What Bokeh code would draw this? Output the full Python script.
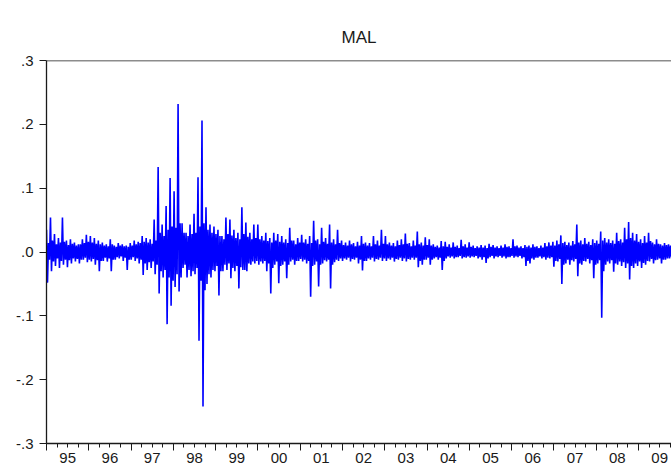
import numpy as np
from bokeh.plotting import figure
from bokeh.models import (LinearAxis, FixedTicker, CustomJSTickFormatter, Span,
                          Range1d, ColumnDataSource)
from bokeh.embed import file_html
from bokeh.resources import INLINE

TITLE = "MAL"
START, END = 1995.0, 2009.78
YEARS = list(range(1995, 2010))
Y_TICKS = [-0.3, -0.2, -0.1, 0.0, 0.1, 0.2, 0.3]

# daily returns (in thousandths):
# HI / LO = extreme highs / lows, HI_B / LO_B = the dense core band between them
HI = [35, 54, 28, 22, 54, 18, 20, 15, 12, 20, 27,
      25, 22, 18, 15, 12, 20, 10, 14, 12, 10, 14,
      18, 16, 25, 22, 20, 51, 133, 43, 72, 116,
      95, 232, 45, 30, 43, 60, 117, 206, 70, 43, 40,
      35, 25, 54, 51, 35, 30, 70, 46, 30, 43,
      43, 25, 30, 22, 30, 28, 25, 20, 38, 18, 22,
      27, 20, 25, 49, 20, 38, 22, 43, 20, 35,
      18, 15, 18, 14, 16, 25, 15, 14, 25, 18, 35,
      25, 15, 14, 18, 20, 29, 14, 18, 32, 15,
      23, 20, 12, 10, 17, 16, 12, 15, 10, 19, 12,
      15, 10, 9, 11, 10, 13, 11, 9, 10, 12, 9,
      20, 10, 9, 11, 10, 12, 9, 10, 14, 15,
      16, 18, 26, 16, 15, 17, 43, 18, 22, 16, 20,
      18, 32, 22, 20, 18, 30, 20, 38, 47, 30,
      28, 20, 25, 30, 15, 20, 12, 14, 12]
LO = [-48, -30, -22, -25, -20, -24, -18, -15, -18, -12, -16,
      -15, -20, -30, -14, -15, -30, -12, -10, -14, -28, -12,
      -14, -18, -36, -28, -25, -35, -65, -40, -113, -84,
      -55, -62, -25, -40, -38, -35, -139, -242, -50, -40, -30,
      -68, -30, -28, -41, -30, -57, -28, -30, -20, -18,
      -20, -18, -30, -65, -20, -49, -20, -41, -15, -20, -14,
      -15, -18, -70, -20, -54, -18, -15, -57, -16, -14,
      -14, -12, -15, -12, -18, -29, -14, -12, -15, -12, -14,
      -14, -12, -15, -12, -14, -15, -12, -12, -24, -20,
      -12, -20, -10, -12, -28, -10, -9, -10, -8, -10, -9,
      -9, -8, -10, -12, -17, -8, -10, -8, -9, -10, -8,
      -9, -8, -10, -22, -18, -12, -9, -10, -12, -10,
      -23, -15, -50, -18, -20, -15, -38, -20, -15, -18, -41,
      -18, -103, -20, -18, -31, -20, -22, -25, -43, -25,
      -22, -25, -20, -15, -18, -12, -18, -12, -10]
HI_B = [14, 18, 12, 15, 16, 11, 13, 10, 12, 14, 16,
        15, 13, 12, 10, 9, 12, 8, 10, 9, 8, 10,
        12, 14, 16, 15, 13, 18, 30, 25, 35, 40,
        38, 45, 30, 25, 28, 30, 40, 45, 35, 30, 28,
        25, 20, 28, 26, 22, 20, 28, 24, 20, 22,
        20, 18, 17, 15, 18, 16, 15, 14, 18, 12, 15,
        15, 13, 14, 18, 12, 16, 13, 15, 12, 14,
        11, 10, 12, 9, 10, 13, 10, 9, 12, 10, 13,
        12, 10, 9, 11, 12, 13, 9, 10, 12, 10,
        11, 10, 8, 7, 9, 8, 7, 8, 6, 9, 7,
        8, 6, 7, 7, 6, 8, 7, 6, 7, 8, 6,
        9, 7, 6, 8, 7, 8, 6, 7, 9, 10,
        10, 12, 14, 11, 10, 12, 15, 12, 13, 11, 14,
        13, 18, 15, 14, 13, 17, 15, 20, 22, 18,
        16, 14, 15, 17, 12, 13, 10, 11, 10]
LO_B = [-12, -15, -10, -14, -12, -13, -10, -11, -12, -9, -12,
        -11, -13, -14, -9, -10, -12, -8, -7, -9, -12, -8,
        -10, -12, -18, -16, -15, -20, -30, -28, -40, -45,
        -35, -40, -20, -28, -30, -25, -45, -60, -35, -28, -22,
        -30, -20, -18, -25, -22, -24, -28, -18, -15, -14,
        -15, -14, -18, -25, -15, -22, -15, -20, -12, -14, -11,
        -12, -14, -22, -15, -20, -13, -12, -20, -12, -10,
        -10, -9, -11, -9, -12, -14, -10, -9, -11, -9, -10,
        -10, -9, -11, -9, -10, -11, -9, -9, -14, -12,
        -9, -12, -8, -9, -14, -7, -7, -8, -6, -8, -7,
        -7, -6, -8, -8, -10, -6, -7, -6, -7, -8, -6,
        -7, -6, -8, -14, -10, -9, -7, -8, -9, -8,
        -14, -11, -20, -12, -13, -11, -18, -14, -11, -13, -20,
        -13, -30, -15, -13, -18, -15, -16, -18, -22, -18,
        -15, -17, -14, -11, -13, -10, -12, -10, -8]

vals = []
for h, l, hb, lb in zip(HI, LO, HI_B, LO_B):
    vals += [h / 1000.0, l / 1000.0, hb / 1000.0, lb / 1000.0]
t = np.linspace(START, END, len(vals))
src = ColumnDataSource(dict(t=t, r=vals))

FONT = "Liberation Sans"
DARK = "#1a1a1a"

p = figure(width=671, height=465, output_backend="svg", toolbar_location=None,
           x_range=Range1d(START, END), y_range=Range1d(-0.3, 0.3),
           x_axis_location=None, title=TITLE,
           min_border_left=46, min_border_right=0, min_border_top=60, min_border_bottom=20)
p.background_fill_color = "white"
p.border_fill_color = "white"
p.outline_line_color = None
p.grid.visible = False

p.title.align = "center"
p.title.text_font = FONT
p.title.text_font_size = "17px"
p.title.text_font_style = "normal"
p.title.text_color = DARK
p.title.standoff = 28

p.line("t", "r", source=src, color="#0000ff", line_width=1.6)

# y axis
ya = p.yaxis[0]
ya.ticker = FixedTicker(ticks=Y_TICKS, minor_ticks=[])
ya.formatter = CustomJSTickFormatter(code='return tick.toFixed(1).replace("0.", ".");')
ya.major_tick_out = 7
ya.major_tick_in = 0
ya.minor_tick_out = 0
ya.minor_tick_in = 0
ya.major_label_standoff = 6
ya.major_label_text_font = FONT
ya.major_label_text_font_size = "15px"
ya.major_label_text_color = DARK
ya.axis_line_color = DARK
ya.major_tick_line_color = DARK
ya.axis_line_width = 1.3

# x axis: ticks at year starts and quarters
year_starts = [float(y) for y in YEARS]
quarters = [y + q / 4 for y in YEARS for q in range(4)] + [2010.0]
xt = LinearAxis(ticker=FixedTicker(ticks=year_starts, minor_ticks=quarters),
                formatter=CustomJSTickFormatter(code='return "";'))
xt.major_tick_out = 7
xt.major_tick_in = 0
xt.minor_tick_out = 4
xt.minor_tick_in = 0
xt.major_label_standoff = 0
xt.major_label_text_font_size = "1px"
xt.axis_line_color = DARK
xt.axis_line_width = 1.3
xt.major_tick_line_color = DARK
xt.minor_tick_line_color = DARK
p.add_layout(xt, "below")

# x axis labels centred on each year
xl = LinearAxis(ticker=FixedTicker(ticks=[y + 0.5 for y in YEARS], minor_ticks=[]),
                formatter=CustomJSTickFormatter(code='return String(Math.floor(tick)).slice(2);'))
xl.axis_line_color = None
xl.major_tick_line_color = None
xl.minor_tick_line_color = None
xl.major_tick_out = 0
xl.major_tick_in = 0
xl.major_label_standoff = 2
xl.major_label_text_font = FONT
xl.major_label_text_font_size = "15px"
xl.major_label_text_color = DARK
p.add_layout(xl, "below")

p.add_layout(Span(location=0.3, dimension="width", line_color=DARK, line_width=1.3))

open("out.html", "w").write(file_html(p, INLINE))
